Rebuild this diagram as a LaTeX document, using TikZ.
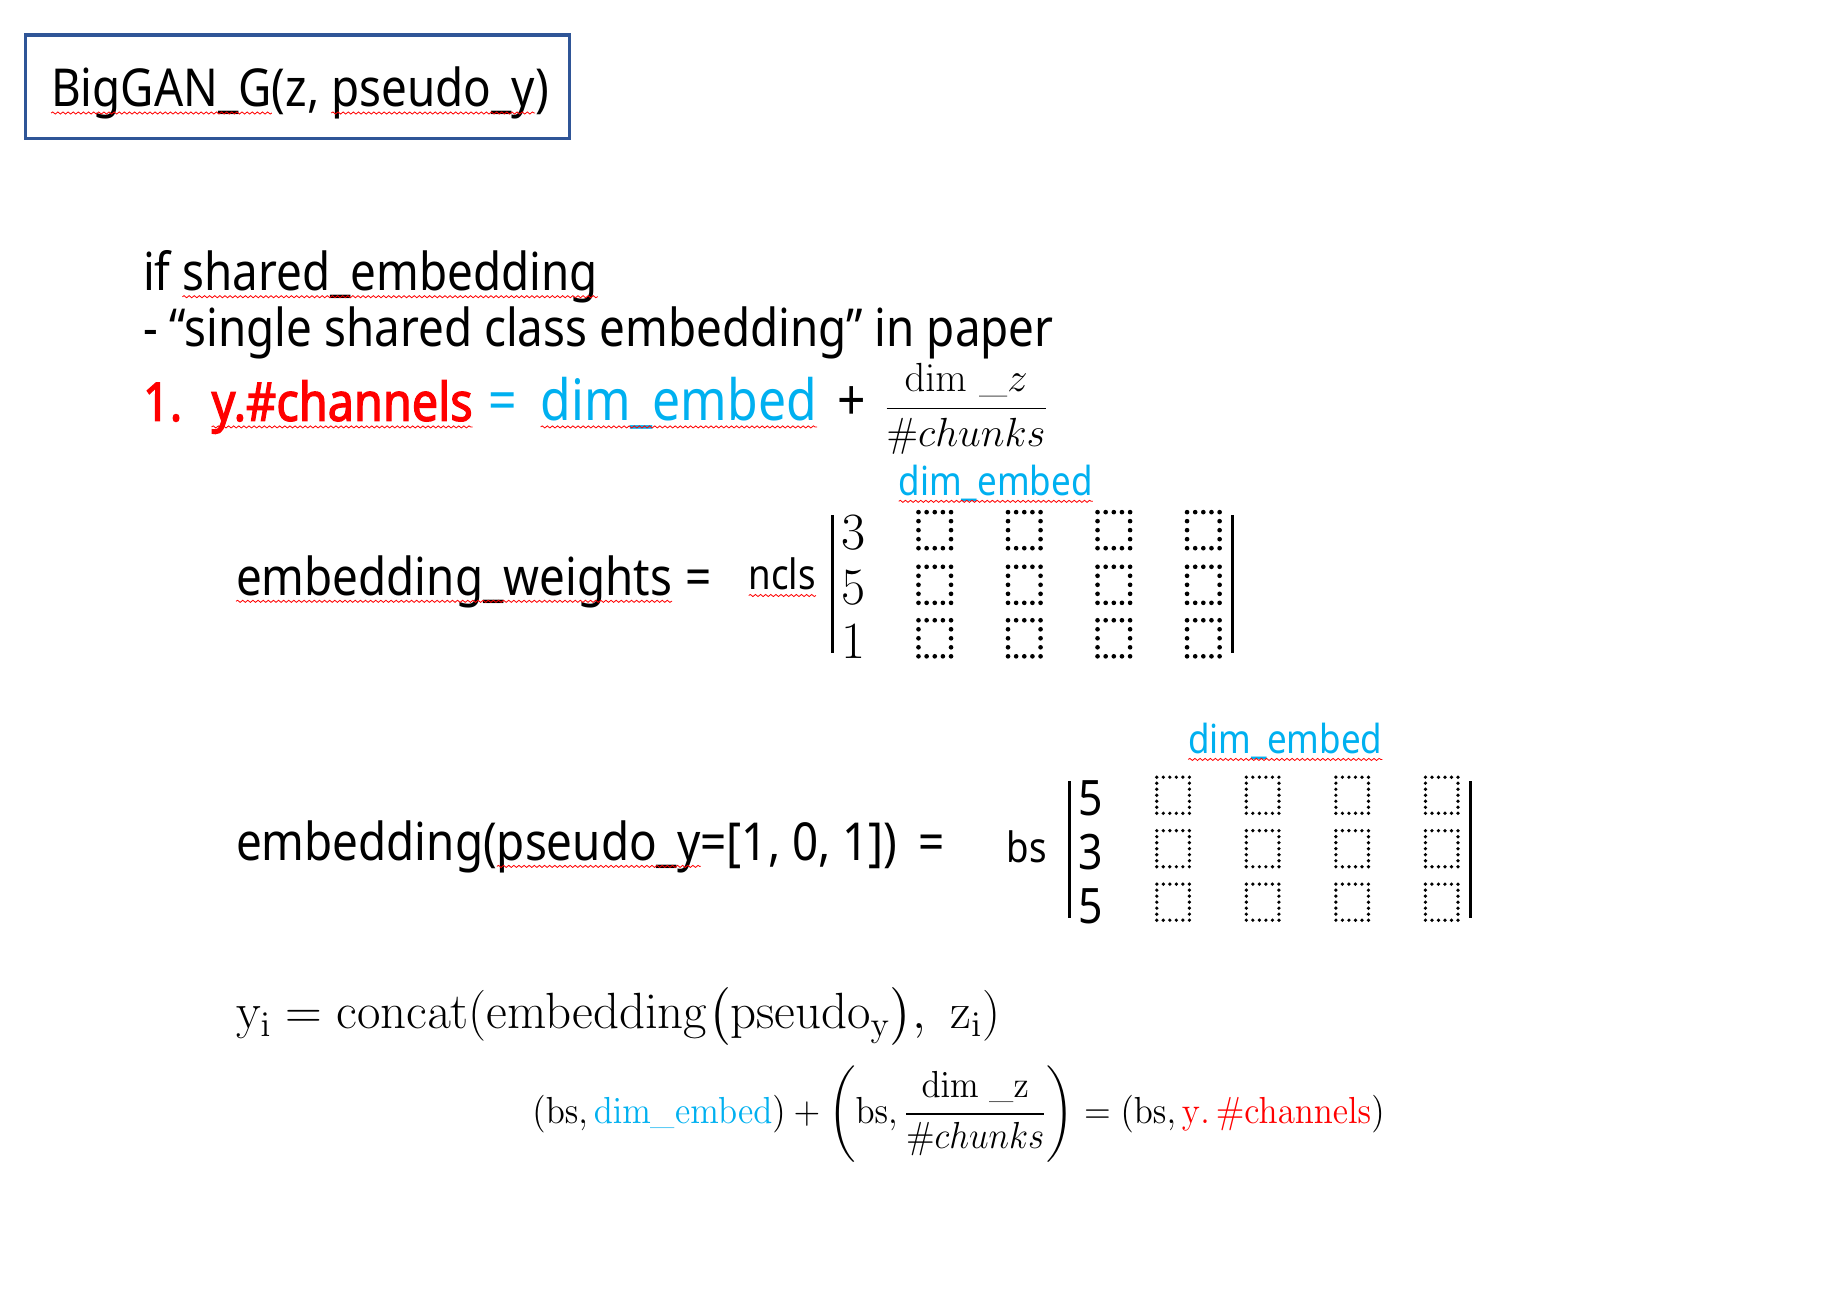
\RequirePackage{fix-cm}
\documentclass[tikz,border=0pt]{standalone}
\usepackage[no-math]{fontspec}
\usepackage{amsmath}
\newfontfamily\uisans[FakeStretch=0.875]{Noto Sans}
\newfontfamily\uibold[FakeStretch=0.875, FakeBold=2.2]{Noto Sans}
\usetikzlibrary{decorations.pathmorphing}
\definecolor{frameblue}{HTML}{2F5597}
\definecolor{embedblue}{HTML}{00B0F0}
\definecolor{chanred}{HTML}{FF0000}
\newcommand\fs[1]{\fontsize{#1}{#1}\selectfont}
% one matrix entry: a rectangle of dots (centre x, centre y, dots across, dots down, dot radius)
\newcommand\dotcell[5]{%
  \begin{scope}[shift={(#1-14,#2-15.5)}]
    \pgfmathsetmacro\dx{28/(#3-1)}
    \pgfmathsetmacro\dy{31/(#4-1)}
    \pgfmathtruncatemacro\na{#3-1}
    \pgfmathtruncatemacro\nd{#4-2}
    \foreach \i in {0,...,\na}{\fill (\i*\dx,0) circle (#5); \fill (\i*\dx,31) circle (#5);}
    \foreach \j in {1,...,\nd}{\fill (0,\j*\dy) circle (#5); \fill (28,\j*\dy) circle (#5);}
  \end{scope}}
\newcommand\wavy[1]{\draw[spell] ([yshift=-2.6pt]#1.base west) -- ([yshift=-2.6pt]#1.base east);}

\begin{document}
\begin{tikzpicture}[x=0.5pt,y=-0.5pt,
  txt/.style={anchor=base west, inner sep=0pt, outer sep=0pt},
  body/.style={txt, font=\uisans\fs{22.5}},
  dimlabel/.style={txt, font=\uisans\fs{17.2}, text=embedblue},
  side/.style={txt, font=\uisans\fs{18}},
  serifdigit/.style={anchor=base, inner sep=0pt, font=\fs{22.5}},
  sansdigit/.style={anchor=base, inner sep=0pt, font=\uisans\fs{21}},
  spell/.style={draw=chanred, line width=0.35pt, decorate,
    decoration={snake, amplitude=0.45pt, segment length=2.2pt}},
  bar/.style={line width=1.4pt},
]
\fill[white] (0,0) rectangle (1568,1124);

% title box
\node[draw=frameblue, line width=1.4pt, minimum width=234pt, minimum height=44.5pt,
  inner sep=0pt] (titlebox) at (256,74.5) {};
\node[body] (t1) at (44,92) {BigGAN\_G};
\node[body] (t2) at (t1.base east) {(z,\ \null};
\node[body] (t3) at (t2.base east) {pseudo\_y};
\node[body] (t4) at (t3.base east) {)};
\wavy{t1}\wavy{t3}

% condition
\node[body] (if) at (123,250) {if\ \null};
\node[body] (se) at (if.base east) {shared\_embedding};
\wavy{se}
\node[body] (paper) at (123,298) {- “single shared class embedding” in paper};

% channel count
\node[txt, font=\uibold\fs{23}, text=chanred] (num) at (123,362) {1.};
\node[txt, font=\uibold\fs{23}, text=chanred] (ych) at (182,362) {y.\#channels};
\node[txt, font=\uisans\fs{24.5}, text=embedblue] (eqa) at (420,362) {=};
\node[txt, font=\uisans\fs{24.5}, text=embedblue] (de) at (465,362) {dim\_embed};
\node[txt, font=\uisans\fs{24.5}] (plus) at (720,362) {+};
\node[anchor=base, inner sep=0pt, font=\fs{17.5}] (frac) at (831,360)
  {$\dfrac{\mathrm{dim}\ \_z}{\#chunks}$};
\wavy{ych}\wavy{de}

% embedding weights
\node[dimlabel] (lab1) at (773,426) {dim\_embed};
\wavy{lab1}
\node[body] (ew) at (203,512) {embedding\_weights};
\node[body] (ewq) at (590,512) {=};
\node[side] (ncls) at (644,507) {ncls};
\wavy{ew}\wavy{ncls}
\node[serifdigit] (wa) at (734,473) {3};
\node[serifdigit] (wb) at (734,520) {5};
\node[serifdigit] (wc) at (734,566) {1};
\draw[bar] (716,443) -- (716,562);
\draw[bar] (1060,443) -- (1060,562);
\foreach \cx in {804,881,958,1035}{
  \foreach \cy in {456,503,549}{
    \dotcell{\cx}{\cy}{5}{5}{2.0}}}

% embedding lookup
\node[dimlabel] (lab2) at (1022,648) {dim\_embed};
\wavy{lab2}
\node[body] (emb) at (203,740) {embedding(};
\node[body] (py) at (emb.base east) {pseudo\_y};
\node[body] (arg) at (py.base east) {=[1, 0, 1])};
\node[body] (embq) at (790,740) {=};
\wavy{py}
\node[side] (bs) at (866,742) {bs};
\node[sansdigit] (ea) at (938,701) {5};
\node[sansdigit] (eb) at (938,748) {3};
\node[sansdigit] (ec) at (938,794) {5};
\draw[bar] (920,672) -- (920,790);
\draw[bar] (1265,672) -- (1265,790);
\foreach \cx in {1009,1086,1163,1240}{
  \foreach \cy in {684,730,776}{
    \dotcell{\cx}{\cy}{6}{7}{1.6}}}

% concatenation
\node[txt, font=\fs{21.9}] (cat) at (203,885)
  {$\mathrm{y_i} = \mathrm{concat}(\mathrm{embedding}\bigl(\mathrm{pseudo_y}\bigr),\ \mathrm{z_i})$};
\node[txt, font=\fs{16.2}] (shape) at (458,966)
  {\scalebox{0.93}[1]{$(\mathrm{bs}, \textcolor{embedblue}{\mathrm{dim\_embed}}) + \left(\mathrm{bs}, \dfrac{\mathrm{dim}\ \_\mathrm{z}}{\#chunks}\right) = (\mathrm{bs}, \textcolor{chanred}{\mathrm{y.\,\#channels}})$}};
\end{tikzpicture}
\end{document}
